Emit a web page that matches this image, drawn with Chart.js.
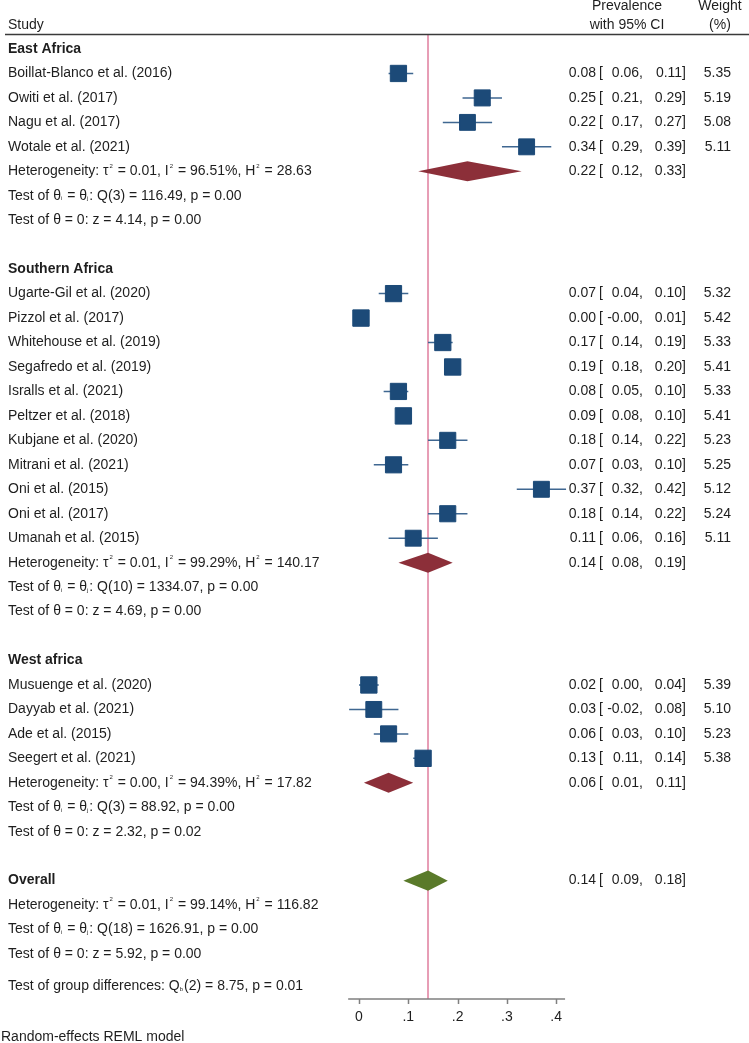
<!DOCTYPE html>
<html><head><meta charset="utf-8">
<script src="https://cdn.jsdelivr.net/npm/chart.js@4"></script>
<style>html,body{margin:0;padding:0;background:#fff}#wrap{width:749px;height:1043px;position:relative}</style>
</head><body><div id="wrap"><canvas id="c"></canvas></div>
<script>
// ---------------- data ----------------
const GROUPS = ['East Africa', 'Southern Africa', 'West africa'];
const STUDIES = ['Boillat-Blanco et al. (2016)', 'Owiti et al. (2017)', 'Nagu et al. (2017)', 'Wotale et al. (2021)',
  'Ugarte-Gil et al. (2020)', 'Pizzol et al. (2017)', 'Whitehouse et al. (2019)', 'Segafredo et al. (2019)',
  'Isralls et al. (2021)', 'Peltzer et al. (2018)', 'Kubjane et al. (2020)', 'Mitrani et al. (2021)',
  'Oni et al. (2015)', 'Oni et al. (2017)', 'Umanah et al. (2015)',
  'Musuenge et al. (2020)', 'Dayyab et al. (2021)', 'Ade et al. (2015)', 'Seegert et al. (2021)'];
const STUDY_GROUP = [0,0,0,0, 1,1,1,1,1,1,1,1,1,1,1, 2,2,2,2];
const EST = [0.08,0.25,0.22,0.34, 0.07,0.004,0.17,0.19,0.08,0.09,0.18,0.07,0.37,0.18,0.11, 0.02,0.03,0.06,0.13];
const LO  = [0.06,0.21,0.17,0.29, 0.04,-0.004,0.14,0.18,0.05,0.08,0.14,0.03,0.32,0.14,0.06, 0.00,-0.02,0.03,0.11];
const HI  = [0.11,0.29,0.27,0.39, 0.10,0.01,0.19,0.20,0.10,0.10,0.22,0.10,0.42,0.22,0.16, 0.04,0.08,0.10,0.14];
const WEIGHT = [5.35,5.19,5.08,5.11, 5.32,5.42,5.33,5.41,5.33,5.41,5.23,5.25,5.12,5.24,5.11, 5.39,5.10,5.23,5.38];

const G_EST = [0.22, 0.14, 0.06];
const G_LO  = [0.12, 0.08, 0.01];
const G_HI  = [0.33, 0.19, 0.11];
const G_TAU2 = ['0.01', '0.01', '0.00'];
const G_I2   = ['96.51%', '99.29%', '94.39%'];
const G_H2   = ['28.63', '140.17', '17.82'];
const G_QTEST = ['Q(3) = 116.49, p = 0.00', 'Q(10) = 1334.07, p = 0.00', 'Q(3) = 88.92, p = 0.00'];
const G_ZTEST = ['z = 4.14, p = 0.00', 'z = 4.69, p = 0.00', 'z = 2.32, p = 0.02'];

const OVERALL_EST = 0.14, OVERALL_LO = 0.09, OVERALL_HI = 0.18;
const OVERALL_TAU2 = '0.01', OVERALL_I2 = '99.14%', OVERALL_H2 = '116.82';
const OVERALL_QTEST = 'Q(18) = 1626.91, p = 0.00';
const OVERALL_ZTEST = 'z = 5.92, p = 0.00';
const GROUP_DIFF = '(2) = 8.75, p = 0.01';

const X_TICKS = [0, 0.1, 0.2, 0.3, 0.4];
const X_TICK_LABELS = ['0', '.1', '.2', '.3', '.4'];
const X_AXIS_RANGE = [-0.022, 0.418];

// ---------------- layout ----------------
const W = 749, H = 1043;
const ROW_PX = 24.46, FIRST_ROW_Y = 49;
const PX_PER_UNIT = 493, ZERO_X = 359;
const AXIS_Y_PX = 999, REF_TOP_PX = 35;
const FONT = '"Liberation Sans", Arial, sans-serif';
const C = { box:'#1c4a78', whisk:'#3f6791', sub:'#8c2f39', all:'#5a7a2a', ref:'#e79db5', axis:'#808080', text:'#1e1e1e' };

// row assignment
const studyRow = [], gHeadRow = [], gHetRow = [];
let r = 0;
GROUPS.forEach((g, gi) => {
  gHeadRow[gi] = r++;
  STUDY_GROUP.forEach((sg, i) => { if (sg === gi) studyRow[i] = r++; });
  gHetRow[gi] = r; r += 4;
});
const overallRow = r;
const groupDiffRow = overallRow + 4.31;
const pxToRow = px => (px - FIRST_ROW_Y) / ROW_PX;

// datasets
const whiskerData = [];
STUDIES.forEach((s, i) => {
  whiskerData.push({x: LO[i], y: studyRow[i]}, {x: HI[i], y: studyRow[i]}, {x: HI[i], y: null});
});
const boxData = STUDIES.map((s, i) => ({x: EST[i], y: studyRow[i]}));
const boxRadius = WEIGHT.map(w => 11.4 * Math.sqrt(w / 5.25));

function rich(ctx, x, y, segs, size, bold) {
  const base = (bold ? 'bold ' : '') + size + 'px ' + FONT;
  const small = Math.round(size * 0.45) + 'px ' + FONT;
  let cx = x;
  ctx.textAlign = 'left';
  segs.forEach(s => {
    if (typeof s === 'string') { ctx.font = base; ctx.fillText(s, cx, y); cx += ctx.measureText(s).width; }
    else if (s.sup) { ctx.font = small; ctx.fillText(s.sup, cx + 1, y - size * 0.38); cx += ctx.measureText(s.sup).width + 2; }
    else if (s.sub) { ctx.font = small; ctx.fillText(s.sub, cx, y + size * 0.22); cx += ctx.measureText(s.sub).width + 1; }
  });
}
const hetSegs = (t, i, h) => ['Heterogeneity: \u03c4', {sup:'2'}, ' = ' + t + ', I', {sup:'2'}, ' = ' + i + ', H', {sup:'2'}, ' = ' + h];
const qSegs = q => ['Test of \u03b8', {sub:'i'}, ' = \u03b8', {sub:'j'}, ': ' + q];
const f2 = v => v.toFixed(2);

function ciText(ctx, y, est, lo, hi, w) {
  ctx.font = '14px ' + FONT;
  ctx.textAlign = 'right'; ctx.fillText(f2(est), 596, y);
  ctx.textAlign = 'left'; ctx.fillText('[', 599, y);
  ctx.textAlign = 'right'; ctx.fillText(f2(lo) + ',', 643, y);
  ctx.fillText(f2(hi) + ']', 686, y);
  if (w != null) ctx.fillText(w.toFixed(2), 731, y);
}

function diamond(chart, row, lo, est, hi, color) {
  const ctx = chart.ctx, xs = chart.scales.x, ys = chart.scales.y;
  const y = ys.getPixelForValue(row), yt = ys.getPixelForValue(row - 0.41), yb = ys.getPixelForValue(row + 0.41);
  ctx.save();
  ctx.fillStyle = color;
  ctx.beginPath();
  ctx.moveTo(xs.getPixelForValue(lo), y);
  ctx.lineTo(xs.getPixelForValue(est), yt);
  ctx.lineTo(xs.getPixelForValue(hi), y);
  ctx.lineTo(xs.getPixelForValue(est), yb);
  ctx.closePath();
  ctx.fill();
  ctx.restore();
}

const forestPlugin = {
  id: 'forest',
  afterDatasetDraw(chart, args) {
    if (args.index !== 0) return;
    GROUPS.forEach((g, gi) => diamond(chart, gHetRow[gi], G_LO[gi], G_EST[gi], G_HI[gi], C.sub));
    diamond(chart, overallRow, OVERALL_LO, OVERALL_EST, OVERALL_HI, C.all);
  },
  afterDraw(chart) {
    const ctx = chart.ctx, xs = chart.scales.x, ys = chart.scales.y;
    ctx.save();
    ctx.fillStyle = C.text;
    ctx.textBaseline = 'middle';
    const Y = row => ys.getPixelForValue(row);
    // header
    ctx.font = '14px ' + FONT;
    ctx.textAlign = 'left'; ctx.fillText('Study', 8, 25);
    ctx.textAlign = 'center';
    ctx.fillText('Prevalence', 627, 6); ctx.fillText('with 95% CI', 627, 25);
    ctx.fillText('Weight', 720, 6); ctx.fillText('(%)', 720, 25);
    ctx.strokeStyle = '#3a3a3a'; ctx.lineWidth = 1.5;
    ctx.beginPath(); ctx.moveTo(5, 34.5); ctx.lineTo(W, 34.5); ctx.stroke();
    // groups
    GROUPS.forEach((g, gi) => {
      rich(ctx, 8, Y(gHeadRow[gi]), [g], 14, true);
      rich(ctx, 8, Y(gHetRow[gi]), hetSegs(G_TAU2[gi], G_I2[gi], G_H2[gi]), 14, false);
      rich(ctx, 8, Y(gHetRow[gi] + 1), qSegs(G_QTEST[gi]), 14, false);
      rich(ctx, 8, Y(gHetRow[gi] + 2), ['Test of \u03b8 = 0: ' + G_ZTEST[gi]], 14, false);
      ciText(ctx, Y(gHetRow[gi]), G_EST[gi], G_LO[gi], G_HI[gi], null);
    });
    STUDIES.forEach((s, i) => {
      rich(ctx, 8, Y(studyRow[i]), [s], 14, false);
      ciText(ctx, Y(studyRow[i]), EST[i], LO[i], HI[i], WEIGHT[i]);
    });
    rich(ctx, 8, Y(overallRow), ['Overall'], 14, true);
    ciText(ctx, Y(overallRow), OVERALL_EST, OVERALL_LO, OVERALL_HI, null);
    rich(ctx, 8, Y(overallRow + 1), hetSegs(OVERALL_TAU2, OVERALL_I2, OVERALL_H2), 14, false);
    rich(ctx, 8, Y(overallRow + 2), qSegs(OVERALL_QTEST), 14, false);
    rich(ctx, 8, Y(overallRow + 3), ['Test of \u03b8 = 0: ' + OVERALL_ZTEST], 14, false);
    rich(ctx, 8, Y(groupDiffRow), ['Test of group differences: Q', {sub:'b'}, GROUP_DIFF], 14, false);
    rich(ctx, 1, 1037, ['Random-effects REML model'], 14, false);
    // x axis
    const ay = AXIS_Y_PX;
    ctx.strokeStyle = C.axis; ctx.lineWidth = 1.5;
    ctx.beginPath();
    ctx.moveTo(xs.getPixelForValue(X_AXIS_RANGE[0]), ay); ctx.lineTo(xs.getPixelForValue(X_AXIS_RANGE[1]), ay);
    X_TICKS.forEach(v => { const px = Math.round(xs.getPixelForValue(v)) + 0.5; ctx.moveTo(px, ay); ctx.lineTo(px, ay + 5); });
    ctx.stroke();
    ctx.font = '14px ' + FONT; ctx.textAlign = 'center';
    X_TICKS.forEach((v, k) => ctx.fillText(X_TICK_LABELS[k], xs.getPixelForValue(v), 1017));
    ctx.restore();
  }
};

new Chart(document.getElementById('c'), {
  type: 'scatter',
  data: {
    datasets: [
      { type: 'line', order: 10, data: [{x: OVERALL_EST, y: pxToRow(REF_TOP_PX)}, {x: OVERALL_EST, y: pxToRow(AXIS_Y_PX)}],
        borderColor: C.ref, borderWidth: 2, pointRadius: 0, fill: false },
      { type: 'line', order: 5, data: whiskerData, borderColor: C.whisk, borderWidth: 1.5, pointRadius: 0, spanGaps: false, fill: false },
      { type: 'scatter', order: 1, data: boxData, pointStyle: 'rect', pointRadius: boxRadius,
        backgroundColor: C.box, borderColor: C.box, borderWidth: 1 }
    ]
  },
  options: {
    responsive: true, maintainAspectRatio: false, animation: false, events: [],
    layout: { padding: 0, autoPadding: false },
    plugins: { legend: { display: false }, tooltip: { enabled: false } },
    scales: {
      x: { type: 'linear', display: false, min: -ZERO_X / PX_PER_UNIT, max: (W - ZERO_X) / PX_PER_UNIT },
      y: { type: 'linear', display: false, reverse: true, min: pxToRow(0), max: pxToRow(H) }
    }
  },
  plugins: [forestPlugin]
});
</script></body></html>
